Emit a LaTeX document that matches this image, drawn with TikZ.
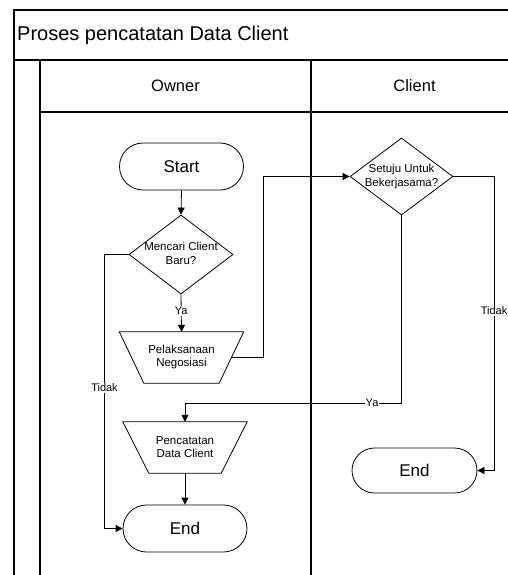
\documentclass[tikz,border=0pt]{standalone}
\usepackage{fontspec}
\setmainfont{Liberation Sans}
\usetikzlibrary{shapes.geometric,shapes.misc,arrows.meta,calc}
\newcommand\zbox[1]{\smash{\makebox[0pt]{\raisebox{-0.25em}{\begin{tabular}{@{}c@{}}#1\end{tabular}}}}}
\begin{document}
\begin{tikzpicture}[x=1pt,y=-1pt,
  frame/.style={line width=1.1pt},
  term/.style={rounded rectangle, draw, line width=0.8pt, minimum width=124pt, minimum height=47pt, font=\fontsize{17}{18}\selectfont, inner sep=0pt},
  decision/.style={diamond, draw, line width=0.8pt, inner sep=0pt, font=\fontsize{11.5}{14}\selectfont},
  trapbox/.style={minimum width=124pt, minimum height=51pt, inner sep=0pt, font=\fontsize{11.5}{13}\selectfont, align=center},
  trapline/.style={line width=0.8pt},
  flow/.style={line width=0.8pt, -{Triangle[length=7pt,width=7pt]}},
  plain/.style={line width=0.8pt},
  lbl/.style={fill=white, inner sep=1pt, font=\fontsize{11}{12}\selectfont},
  head/.style={font=\fontsize{16.5}{18}\selectfont, inner sep=0pt}
]
\useasboundingbox (0,0) rectangle (508,575);
\clip (0,0) rectangle (508,575);
\fill[white] (0,0) rectangle (508,575);

% frame / swimlanes
\draw[frame] (14,590) -- (14,10) -- (518,10) -- (518,590);
\draw[frame] (14,60) -- (518,60);
\draw[frame] (40,60) -- (40,590);
\draw[frame] (40,112) -- (518,112);
\draw[frame] (311,60) -- (311,590);

\node[anchor=west, inner sep=0pt, font=\fontsize{20}{22}\selectfont] (title) at (17,35) {Proses pencatatan Data Client};
\node[head] (owner) at (175.5,86) {Owner};
\node[head] (client) at (414.5,86) {Client};

% shapes
\node[term] (start) at (181.5,166.5) {Start};
\node[decision, minimum width=104pt, minimum height=79pt] (cari) at (181,254.5) {\zbox{Mencari Client\\Baru?}};
\node[trapbox] (nego) at (181.5,357.5) {Pelaksanaan\\Negosiasi};
\draw[trapline] (nego.north west) -- (nego.north east) -- ([xshift=-24.5pt]nego.south east) -- ([xshift=24.5pt]nego.south west) -- cycle;
\node[decision, minimum width=103pt, minimum height=77pt] (setuju) at (401.5,176.5) {\zbox{Setuju Untuk\\Bekerjasama?}};
\node[trapbox] (catat) at (185,447.5) {Pencatatan\\Data Client};
\draw[trapline] (catat.north west) -- (catat.north east) -- ([xshift=-26pt]catat.south east) -- ([xshift=26pt]catat.south west) -- cycle;
\node[term] (endL) at (185,528.5) {End};
\node[term, minimum width=125pt, minimum height=45pt] (endR) at (414.5,470.5) {End};

% corner points
\coordinate (tl) at (104.5,254.5);
\coordinate (pr) at (263,357.5);
\coordinate (tr) at (494,176.5);
\coordinate (yc) at (401.5,403);

% connectors
\draw[flow] (start.south) -- (cari.north);
\draw[flow] (cari.south) -- node[lbl, pos=0.45] {Ya} (nego.north);
\draw[flow] (cari.west) -- (tl) -- node[lbl, pos=0.487] {Tidak} (tl |- endL.west) -- (endL.west);
\draw[flow] ([xshift=-12.25pt]nego.east) -- (pr) |- (setuju.west);
\draw[flow] (setuju.south) -- (yc) -- node[lbl, pos=0.136] {Ya} (yc -| catat.north) -- (catat.north);
\draw[flow] (setuju.east) -- (tr) -- node[lbl, pos=0.457] {Tidak} (tr |- endR.east) -- (endR.east);
\draw[flow] (catat.south) -- (endL.north);
\end{tikzpicture}
\end{document}
